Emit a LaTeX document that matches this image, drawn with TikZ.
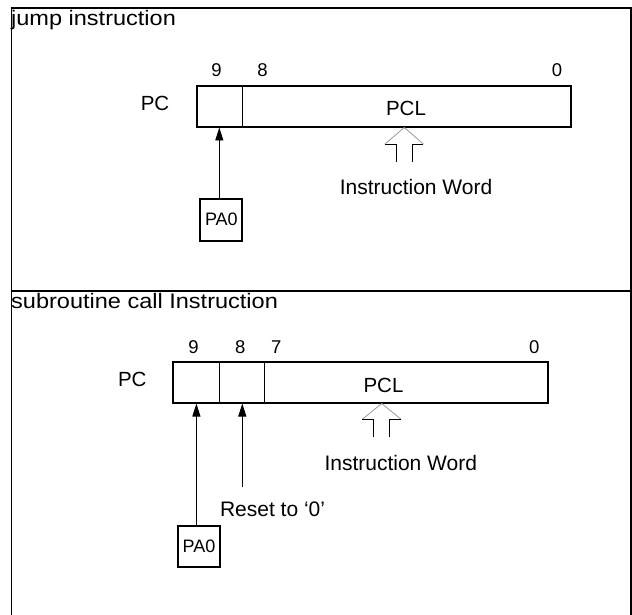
\documentclass[tikz,border=0pt]{standalone}
\usepackage{fontspec}
\usepackage{graphicx}
\setmainfont{Liberation Sans}
\usetikzlibrary{arrows.meta}
\newcommand\widetitle[1]{\scalebox{1.12}[1]{#1}}
\tikzset{
  frame/.style={line width=1.3pt},
  regbox/.style={draw, line width=2pt, rectangle, inner sep=0pt},
  cellsep/.style={line width=0.9pt},
  title/.style={inner sep=0pt, anchor=base west, font=\fontsize{21}{25}\selectfont},
  lbl/.style={inner sep=0pt, anchor=base, font=\fontsize{20.5}{24}\selectfont},
  word/.style={inner sep=0pt, anchor=base, font=\fontsize{21}{25}\selectfont},
  dig/.style={inner sep=0pt, anchor=base, font=\fontsize{18.5}{22}\selectfont},
  pabox/.style={draw, line width=2pt, rectangle, inner sep=0pt, minimum width=42pt, minimum height=41.5pt, font=\fontsize{18}{20}\selectfont},
  arr/.style={line width=0.9pt, -{Triangle[length=13pt,width=8pt]}},
  hollowhead/.style={line width=0.8pt, draw=black!40},
  hollowshaft/.style={line width=0.9pt},
}
\begin{document}
\begin{tikzpicture}[x=1pt,y=-1pt]
\useasboundingbox (0,0) rectangle (632,615);
% frame
\draw[frame] (11.5,615) -- (11.5,8) -- (631,8) -- (631,615);
\draw[frame] (11.5,291) -- (631,291);

% ---------- top panel: jump instruction ----------
\node[title] (t1) at (11,25.5) {\widetitle{jump instruction}};
\node[regbox, minimum width=374pt, minimum height=41pt] (rega) at (384,106.5) {};
\draw[cellsep] (242.5,86) -- (242.5,127);
\node[dig] (a9) at (216.5,77) {9};
\node[dig] (a8) at (262.5,77) {8};
\node[dig] (a0) at (557,77) {0};
\node[lbl] (pca) at (155,111) {PC};
\node[lbl] (pcla) at (406,115.7) {PCL};
\node[pabox] (paa) at (221.4,219.8) {PA0};
\coordinate (ina) at (219.3,127.5);
\draw[arr] (paa.north -| ina) -- (ina);
\node[word] (iwa) at (416,194) {Instruction Word};
\coordinate (hta) at (404.3,127.5);
\draw[hollowhead] ([xshift=-19.3pt,yshift=-16.5pt]hta) -- (hta) -- ([xshift=19pt,yshift=-16.5pt]hta);
\draw[hollowshaft] ([xshift=-7.6pt,yshift=-34.2pt]hta) -- ([xshift=-7.6pt,yshift=-16.5pt]hta) -- ([xshift=-19.3pt,yshift=-16.5pt]hta);
\draw[hollowshaft] ([xshift=8pt,yshift=-34.2pt]hta) -- ([xshift=8pt,yshift=-16.5pt]hta) -- ([xshift=19pt,yshift=-16.5pt]hta);

% ---------- bottom panel: subroutine call ----------
\node[title] (t2) at (11,308.3) {\widetitle{subroutine call Instruction}};
\node[regbox, minimum width=375pt, minimum height=41pt] (regb) at (360.9,382.5) {};
\draw[cellsep] (219.4,362) -- (219.4,403);
\draw[cellsep] (264.5,362) -- (264.5,403);
\node[dig] (b9) at (193.5,353.3) {9};
\node[dig] (b8) at (240.3,353.3) {8};
\node[dig] (b7) at (276.2,353.3) {7};
\node[dig] (b0) at (534.3,353.3) {0};
\node[lbl] (pcb) at (132.3,386.7) {PC};
\node[lbl] (pclb) at (383.5,392.3) {PCL};
\node[pabox, minimum height=41pt] (pab) at (199,546.2) {PA0};
\coordinate (inb9) at (196.4,403.5);
\draw[arr] (pab.north -| inb9) -- (inb9);
\node[word, anchor=base west] (rst) at (219.8,516) {Reset to ‘0’};
\coordinate (inb8) at (242.3,403.5);
\coordinate (rstfoot) at (242.3,487.3);
\draw[arr] (rstfoot) -- (inb8);
\node[word] (iwb) at (400.8,470) {Instruction Word};
\coordinate (htb) at (381.7,403.5);
\draw[hollowhead] ([xshift=-19.3pt,yshift=-15.7pt]htb) -- (htb) -- ([xshift=19.3pt,yshift=-15.7pt]htb);
\draw[hollowshaft] ([xshift=-8pt,yshift=-33.2pt]htb) -- ([xshift=-8pt,yshift=-15.7pt]htb) -- ([xshift=-19.3pt,yshift=-15.7pt]htb);
\draw[hollowshaft] ([xshift=7.4pt,yshift=-33.2pt]htb) -- ([xshift=7.4pt,yshift=-15.7pt]htb) -- ([xshift=19.3pt,yshift=-15.7pt]htb);
\end{tikzpicture}
\end{document}
